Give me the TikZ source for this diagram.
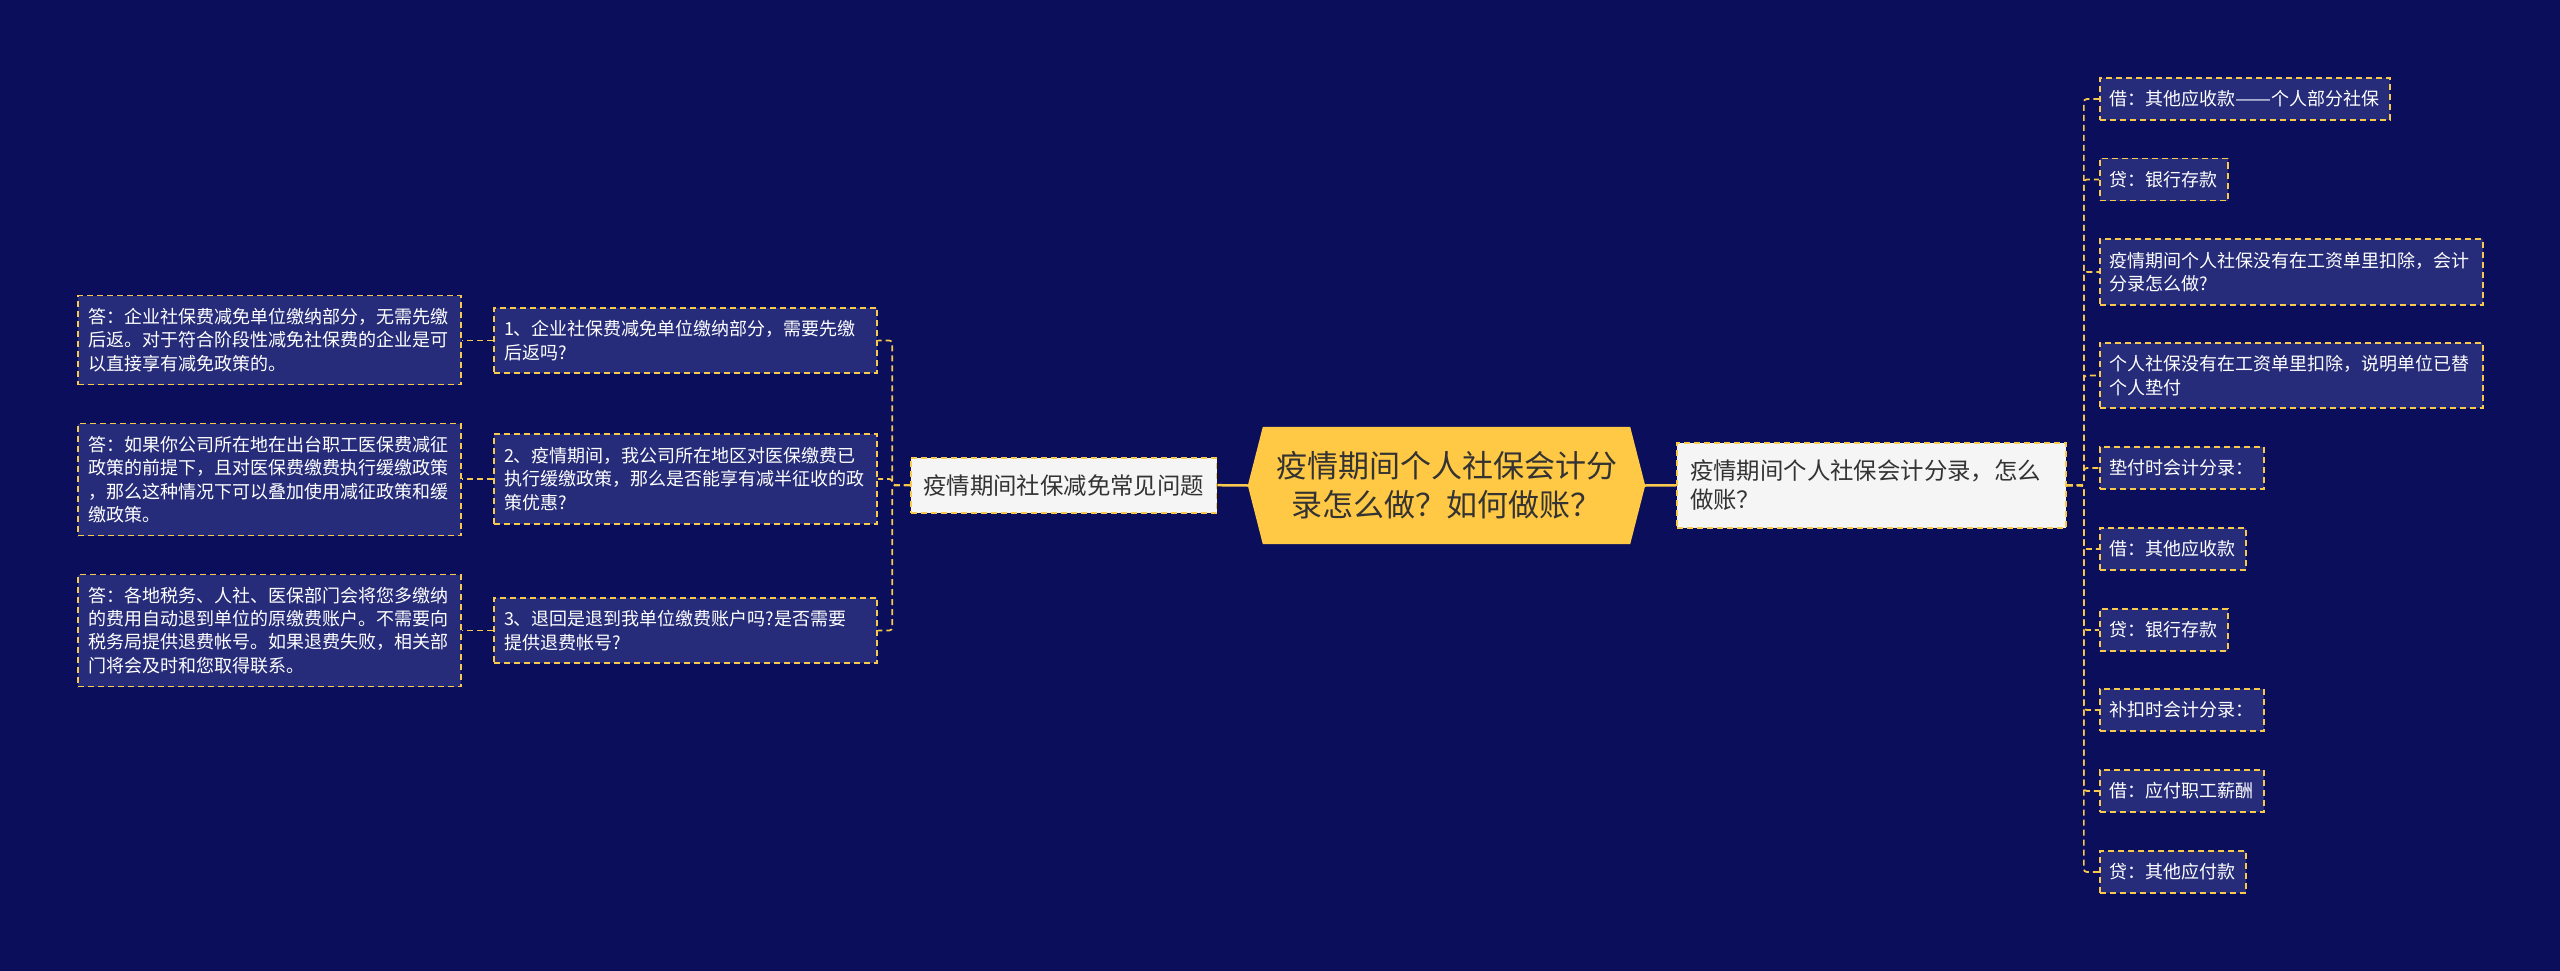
\documentclass[tikz,border=0pt]{standalone}
\usepackage{fontspec}
\usepackage{graphicx}
\setmainfont{Noto Sans CJK SC}
\definecolor{bgcol}{HTML}{0A0E5B}
\definecolor{boxfill}{HTML}{262C79}
\definecolor{lineY}{HTML}{F7C94C}
\definecolor{hexfill}{HTML}{FFC845}
\definecolor{lightfill}{HTML}{F5F5F5}
\definecolor{darktext}{HTML}{333333}
\pgfdeclarelayer{canvas}
\pgfdeclarelayer{back}
\pgfsetlayers{canvas,back,main}
\tikzset{
  conn/.style={draw=lineY, line width=1.7pt, dash pattern=on 6pt off 4pt, rounded corners=3pt},
  solidconn/.style={draw=lineY, line width=2.5pt},
  leaf/.style={draw=lineY, line width=1.7pt, dash pattern=on 6pt off 4pt, fill=boxfill, text=white,
    font=\fontsize{18}{23.3}\selectfont, inner xsep=10pt, inner ysep=0pt, align=left},
  wideleaf/.style={leaf, text width=363pt},
  hone/.style={minimum height=42pt},
  htwo/.style={minimum height=65.5pt},
  hthree/.style={minimum height=89pt},
  hfour/.style={minimum height=112pt},
  subnode/.style={draw=lineY, line width=1.7pt, dash pattern=on 6pt off 4pt, fill=lightfill, text=darktext,
    font=\fontsize{23.4}{29}\selectfont, inner ysep=0pt, align=left},
  rootnode/.style={minimum width=397pt, minimum height=117pt, inner sep=0pt, align=center,
    font=\fontsize{31}{39}\selectfont, text=darktext},
}
\begin{document}
\begin{tikzpicture}[x=1pt,y=-1pt]
\begin{pgfonlayer}{canvas}
\fill[bgcol] (0,0) rectangle (2560,971);
\end{pgfonlayer}
\useasboundingbox (0,0) rectangle (2560,971);

% root
\node[rootnode] (root) at (1446.5,485.5) {疫情期间个人社保会计分\\录怎么做？如何做账？};
\begin{pgfonlayer}{back}
\fill[hexfill] (root.west) -- ([xshift=15pt]root.north west) -- ([xshift=-15pt]root.north east)
  -- (root.east) -- ([xshift=-15pt]root.south east) -- ([xshift=15pt]root.south west) -- cycle;
\end{pgfonlayer}

% level 1
\node[subnode, inner xsep=12.5pt, minimum height=55pt] (left1) at (1063.6,485.2) {疫情期间社保减免常见问题};
\node[subnode, text width=363pt, inner xsep=13pt, minimum height=85pt] (right1) at (1871.5,485.3) {疫情期间个人社保会计分录，怎么\\做账？};

% left questions
\node[wideleaf, htwo] (q1) at (685.5,340.5) {1、企业社保费减免单位缴纳部分，需要先缴\\后返吗?};
\node[wideleaf, minimum height=90pt] (q2) at (685.5,479) {2、疫情期间，我公司所在地区对医保缴费已\\执行缓缴政策，那么是否能享有减半征收的政\\策优惠?};
\node[wideleaf, htwo] (q3) at (685.5,630.5) {3、退回是退到我单位缴费账户吗?是否需要\\提供退费帐号?};

% answers
\node[wideleaf, hthree] (a1) at (269.5,340) {答：企业社保费减免单位缴纳部分，无需先缴\\后返。对于符合阶段性减免社保费的企业是可\\以直接享有减免政策的。};
\node[wideleaf, hfour] (a2) at (269.5,479.5) {答：如果你公司所在地在出台职工医保费减征\\政策的前提下，且对医保费缴费执行缓缴政策\\，那么这种情况下可以叠加使用减征政策和缓\\缴政策。};
\node[wideleaf, hfour] (a3) at (269.5,630.5) {答：各地税务、人社、医保部门会将您多缴纳\\的费用自动退到单位的原缴费账户。不需要向\\税务局提供退费帐号。如果退费失败，相关部\\门将会及时和您取得联系。};

% right items
\node[leaf, hone, anchor=west] (r1) at (2099,99) {借：其他应收款\resizebox{36pt}{\height}{——}个人部分社保};
\node[leaf, hone, anchor=west] (r2) at (2099,179.5) {贷：银行存款};
\node[wideleaf, htwo, anchor=west] (r3) at (2099,272) {疫情期间个人社保没有在工资单里扣除，会计\\分录怎么做?};
\node[wideleaf, htwo, anchor=west] (r4) at (2099,375.5) {个人社保没有在工资单里扣除，说明单位已替\\个人垫付};
\node[leaf, hone, anchor=west] (r5) at (2099,468) {垫付时会计分录：};
\node[leaf, hone, anchor=west] (r6) at (2099,549) {借：其他应收款};
\node[leaf, hone, anchor=west] (r7) at (2099,630) {贷：银行存款};
\node[leaf, hone, anchor=west] (r8) at (2099,710) {补扣时会计分录：};
\node[leaf, hone, anchor=west] (r9) at (2099,791) {借：应付职工薪酬};
\node[leaf, hone, anchor=west] (r10) at (2099,872) {贷：其他应付款};

% connectors
\draw[solidconn] (root.west) -- (left1.east);
\draw[solidconn] (root.east) -- (right1.west);

\foreach \q in {q1,q2,q3}{
  \draw[conn] (left1.west) -- ++(-17.6,0) |- (\q.east);
}
\draw[conn] (q1.west) -- (q1.west -| a1.east);
\draw[conn] (q2.west) -- (q2.west -| a2.east);
\draw[conn] (q3.west) -- (q3.west -| a3.east);

\foreach \r in {r1,r2,r3,r4,r5,r6,r7,r8,r9,r10}{
  \draw[conn] (right1.east) -- ++(17,0) |- (\r.west);
}
\end{tikzpicture}
\end{document}
